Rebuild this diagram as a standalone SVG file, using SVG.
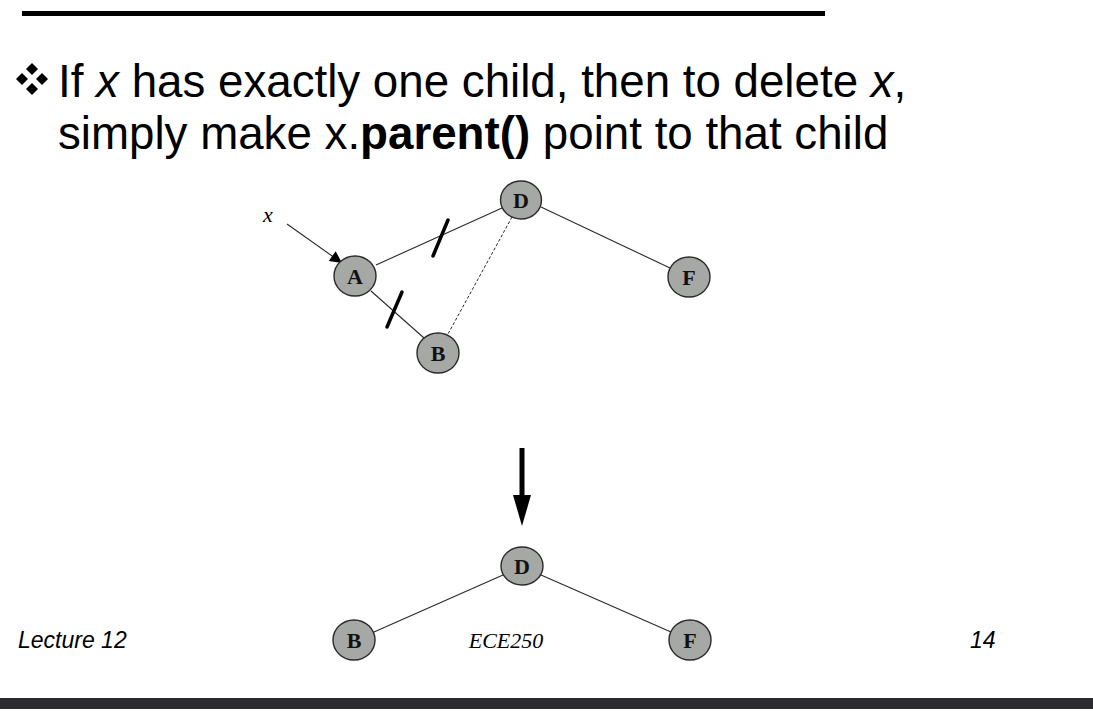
<svg xmlns="http://www.w3.org/2000/svg" width="1093" height="716" viewBox="0 0 1093 716">
<defs>
<style>
.edge{stroke:#2a2a2a;stroke-width:1.1;fill:none}
.dash{stroke:#2a2a2a;stroke-width:1;stroke-dasharray:3 2;fill:none}
.cut{stroke:#000;stroke-width:3.5;stroke-linecap:round}
.node ellipse{fill:#a5a8a5;stroke:#2a2a2a;stroke-width:1.4}
.node text{font-family:"Liberation Serif",serif;font-weight:bold;font-size:22px;fill:#111;text-anchor:middle}
.title{font-family:"Liberation Sans",Arial,sans-serif;font-size:45.7px;fill:#000}
.foot{font-family:"Liberation Sans",Arial,sans-serif;font-style:italic;font-size:23px;fill:#000}
</style>
<marker id="ah" viewBox="0 0 10 10" refX="10" refY="5" markerWidth="22" markerHeight="12" markerUnits="userSpaceOnUse" orient="auto">
<path d="M0,0 L10,5 L0,10 z" fill="#000"/>
</marker>
</defs>
<rect width="1093" height="716" fill="#fff"/>
<rect x="22" y="11" width="803" height="5" fill="#000"/>
<g id="bullet" fill="#000">
<polygon points="32,63 38,69 32,75 26,69"/>
<polygon points="32,83 38,89 32,95 26,89"/>
<polygon points="22,73 28,79 22,85 16,79"/>
<polygon points="42,73 48,79 42,85 36,79"/>
</g>
<text class="title" x="58" y="97">If <tspan font-style="italic">x</tspan> has exactly one child, then to delete <tspan font-style="italic">x</tspan>,</text>
<text class="title" x="58" y="149">simply make x.<tspan font-weight="bold">parent()</tspan> point to that child</text>

<g id="connectors">
<line class="edge" x1="376" y1="265" x2="502" y2="208"/>
<line class="edge" x1="371" y1="291" x2="424" y2="338"/>
<line class="dash" x1="512" y1="217" x2="448" y2="334"/>
<line class="edge" x1="541" y1="207" x2="670" y2="268"/>
<line class="edge" x1="287" y1="224" x2="342" y2="263" marker-end="url(#ah)"/>
<line class="cut" x1="433" y1="256" x2="448" y2="220"/>
<line class="cut" x1="387" y1="327" x2="402" y2="292"/>
<line x1="522" y1="448" x2="522" y2="498" stroke="#000" stroke-width="5"/>
<polygon points="513,495 531,495 522,526" fill="#000"/>
<line class="edge" x1="503" y1="575" x2="374" y2="632"/>
<line class="edge" x1="541" y1="575" x2="671" y2="632"/>
</g>

<text x="263" y="222" font-family="Liberation Serif,serif" font-style="italic" font-size="22">x</text>

<g id="nodeD" class="node"><ellipse cx="521" cy="200" rx="20.5" ry="19"/><text x="521" y="208">D</text></g>
<g id="nodeA" class="node"><ellipse cx="355" cy="276" rx="21" ry="20"/><text x="355" y="284">A</text></g>
<g id="nodeB" class="node"><ellipse cx="438" cy="353" rx="21" ry="20"/><text x="438" y="361">B</text></g>
<g id="nodeF" class="node"><ellipse cx="689" cy="277" rx="21" ry="20"/><text x="689" y="285">F</text></g>

<g id="nodeD2" class="node"><ellipse cx="522" cy="566" rx="21" ry="19"/><text x="522" y="574">D</text></g>
<g id="nodeB2" class="node"><ellipse cx="354" cy="640" rx="21" ry="20"/><text x="354" y="648">B</text></g>
<g id="nodeF2" class="node"><ellipse cx="690" cy="640" rx="21" ry="20"/><text x="690" y="648">F</text></g>

<text class="foot" x="18" y="648">Lecture 12</text>
<text x="506" y="648" font-family="Liberation Serif,serif" font-style="italic" font-size="22" text-anchor="middle">ECE250</text>
<text class="foot" x="970" y="648">14</text>
<rect x="0" y="698" width="1093" height="11" fill="#2b2b30"/>
</svg>
